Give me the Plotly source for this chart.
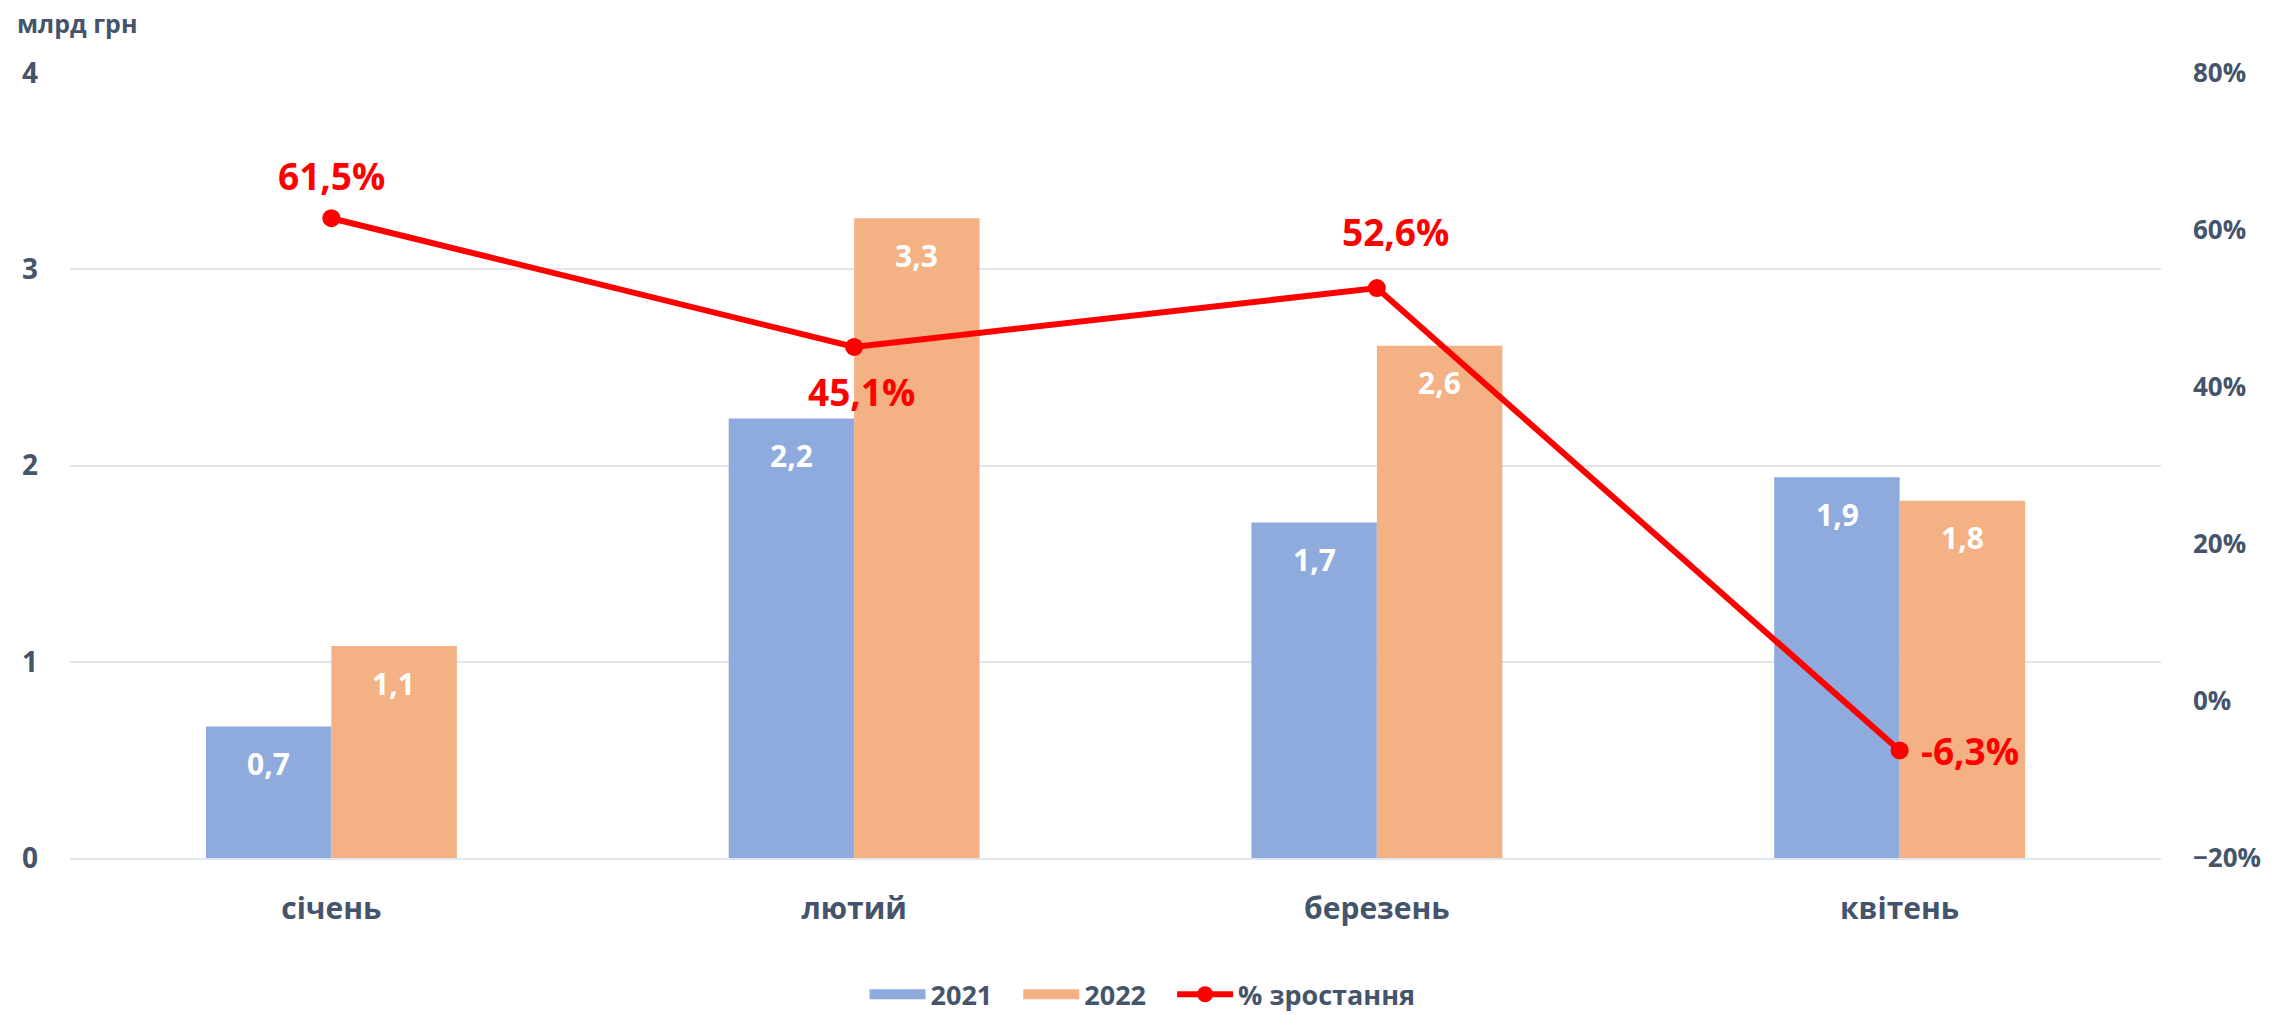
import plotly.graph_objects as go

# Дані
months = ['січень', 'лютий', 'березень', 'квітень']
vals_2021 = [0.67, 2.24, 1.71, 1.94]
vals_2022 = [1.08, 3.26, 2.61, 1.82]
growth = [61.5, 45.1, 52.6, -6.3]

TEXT = '#44546A'
GRID = '#E1E5EC'
BLUE = '#8FAADC'
ORANGE = '#F4B183'
RED = '#FF0000'
FONT = 'Open Sans'

# зсув підписів лінії (px): xshift, yshift, xanchor
growth_lbl = [(0, 43, 'center'), (7, -45, 'center'), (19, 57, 'center'), (19, 0, 'left')]


def fmt(v, suffix=''):
    return f'{v:.1f}'.replace('.', ',') + suffix


fig = go.Figure()

fig.add_trace(go.Bar(
    x=months, y=vals_2021, name='2021', showlegend=False,
    marker=dict(color=BLUE, line=dict(width=0))
))
fig.add_trace(go.Bar(
    x=months, y=vals_2022, name='2022', showlegend=False,
    marker=dict(color=ORANGE, line=dict(width=0))
))
fig.add_trace(go.Scatter(
    x=months, y=growth, name='% зростання', yaxis='y2',
    mode='lines+markers', showlegend=False,
    line=dict(color=RED, width=6),
    marker=dict(color=RED, size=18),
    cliponaxis=False
))

# легенда з широкими прямокутниками (nbsp дає відступ між елементами)
pad = '\u00a0' * 3
for name, col in [('2021', BLUE), ('2022', ORANGE)]:
    fig.add_trace(go.Scatter(
        x=[None], y=[None], name=name + pad, mode='lines',
        line=dict(color=col, width=17), showlegend=True
    ))
fig.add_trace(go.Scatter(
    x=[None], y=[None], name='% зростання', mode='lines+markers',
    line=dict(color=RED, width=6), marker=dict(color=RED, size=18),
    showlegend=True
))

annotations = []
# підписи стовпців
for vals, dx in [(vals_2021, -62.5), (vals_2022, 62.5)]:
    for m, v in zip(months, vals):
        annotations.append(dict(
            x=m, y=v, xref='x', yref='y', text=f'<b>{fmt(v)}</b>',
            xshift=dx, yshift=-37, showarrow=False,
            xanchor='center', yanchor='middle',
            font=dict(size=30, color='white', family=FONT)
        ))
# підписи лінії
for m, v, (dx, dy, anc) in zip(months, growth, growth_lbl):
    annotations.append(dict(
        x=m, y=v, xref='x', yref='y2', text=f'<b>{fmt(v, "%")}</b>',
        xshift=dx, yshift=dy, showarrow=False,
        xanchor=anc, yanchor='middle',
        font=dict(size=37, color=RED, family=FONT)
    ))
annotations.append(dict(
    text='<b>млрд грн</b>', xref='paper', yref='paper',
    x=0, y=1, xshift=-55, yshift=50, xanchor='left', yanchor='middle',
    showarrow=False, font=dict(size=25, color=TEXT, family=FONT)
))

fig.update_layout(
    width=2285, height=1015,
    paper_bgcolor='white', plot_bgcolor='white',
    font=dict(family=FONT, color=TEXT, size=24),
    margin=dict(l=70, r=124, t=73, b=157),
    barmode='group', bargap=0.52, bargroupgap=0,
    xaxis=dict(
        showgrid=False, showline=True, linecolor=GRID, linewidth=2,
        ticks='', ticklabelstandoff=23, automargin=False,
        tickfont=dict(size=30, color=TEXT, weight='bold')
    ),
    yaxis=dict(
        range=[0, 4], dtick=1, showgrid=True, gridcolor=GRID, gridwidth=2,
        zeroline=False, ticks='', ticklabelstandoff=31, automargin=False,
        tickfont=dict(size=28, color=TEXT, weight='bold')
    ),
    yaxis2=dict(
        range=[-20, 80], dtick=20, overlaying='y', side='right',
        showgrid=False, zeroline=False, ticksuffix='%', ticks='',
        ticklabelstandoff=31, automargin=False,
        tickfont=dict(size=26, color=TEXT, weight='bold')
    ),
    legend=dict(
        orientation='h', xref='container', yref='container',
        x=0.5, xanchor='center', y=0.02, yanchor='middle',
        font=dict(size=27, color=TEXT, weight='bold'),
        itemwidth=56, traceorder='normal'
    ),
    annotations=annotations
)

# прибрати стандартний відступ сторінки, щоб графік стояв у (0, 0)
fig.write_html('out.html', config={'displayModeBar': False},
               post_script="document.body.style.margin='0';")
